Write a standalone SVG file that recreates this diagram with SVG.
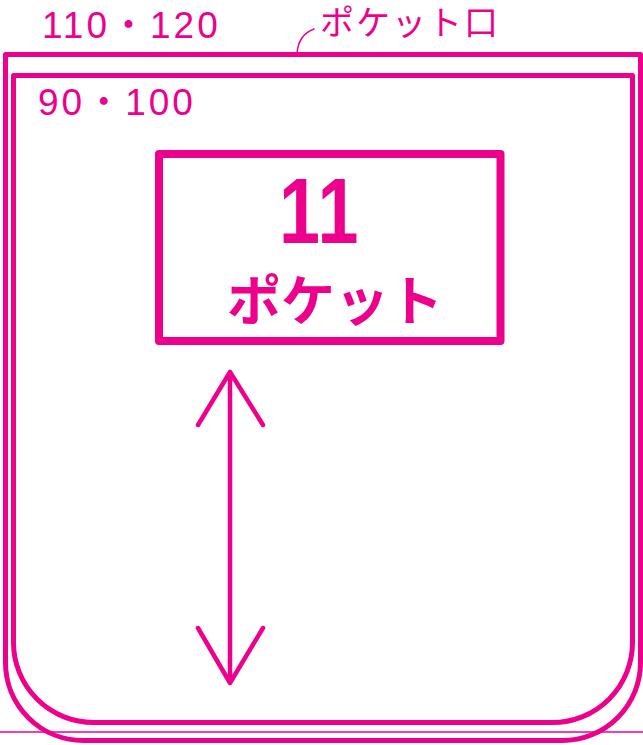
<svg xmlns="http://www.w3.org/2000/svg" width="643" height="745" viewBox="0 0 643 745">
<style>
.ln{fill:none;stroke:#ec008c;stroke-linecap:round;stroke-linejoin:round}
.t{fill:#ec008c;font-family:"Liberation Sans","Noto Sans CJK JP",sans-serif}
.j{fill:#ec008c;font-family:"Noto Sans CJK JP",sans-serif}
</style>
<rect width="643" height="745" fill="#fff"/>
<g id="baseline">
<line x1="0" y1="732" x2="643" y2="732" stroke="#ec008c" stroke-width="1.5"/>
</g>
<g id="outer-pocket">
<path class="ln" stroke-width="5" d="M5.5,54.5 H640.5 V662 A78,78 0 0 1 562.5,740.5 H83.5 A78,78 0 0 1 5.5,662.5 Z"/>
<text class="t" x="42" y="38" font-size="37" letter-spacing="3">110・120</text>
</g>
<g id="inner-pocket">
<path class="ln" stroke-width="5" d="M13.5,75.5 H632.5 V642 A80,80 0 0 1 552.5,722.5 H93.5 A80,80 0 0 1 13.5,642.5 Z"/>
<text class="t" x="38" y="115" font-size="37" letter-spacing="3">90・100</text>
</g>
<g id="label-box">
<rect class="ln" x="159" y="154" width="341.5" height="187" stroke-width="8" stroke-linejoin="miter"/>
<text class="t" transform="translate(279,243) scale(0.8,1)" x="0" y="0" font-size="92" font-weight="bold" letter-spacing="2">11</text>
<text class="j" x="335" y="321" font-size="54" font-weight="bold" text-anchor="middle">ポケット</text>
</g>
<g id="pocket-opening-label">
<text class="j" x="320" y="35" font-size="34" letter-spacing="2">ポケット口</text>
</g>
<g id="connectors">
<path class="ln" stroke-width="1.5" d="M297,53 C298,42 303,33 314,29"/>
<path class="ln" stroke-width="4.5" d="M230,372 V683 M198,425 L230,372 L263,425 M198,628 L230,683 L263,628"/>
</g>
</svg>
